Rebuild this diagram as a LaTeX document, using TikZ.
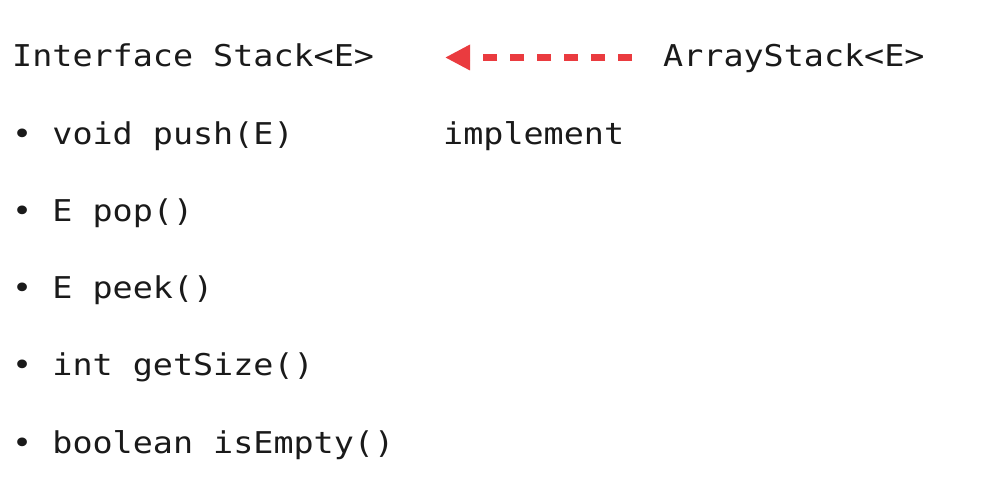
\documentclass[tikz,border=0pt]{standalone}
\usepackage{fontspec}
\newfontfamily\codefont[FakeStretch=1.113]{DejaVu Sans Mono}
\usetikzlibrary{arrows.meta,positioning}
\definecolor{implred}{HTML}{EA3B3F}
\definecolor{codeink}{HTML}{1A1A1A}

\begin{document}
\begin{tikzpicture}[x=1pt,y=-1pt,
  code/.style={anchor=base west,inner sep=0pt,text=codeink,font=\codefont\fontsize{30}{36}\selectfont}]
  \useasboundingbox[fill=white] (0,0) rectangle (996,497);
  \node[code] (iface) at (12,67) {Interface Stack<E>};
  \node[code] (arrstack) at (663,67) {ArrayStack<E>};
  \node[code] (impl) at (443,144.2) {implement};
  \foreach \m [count=\i] in {void push(E),E pop(),E peek(),int getSize(),boolean isEmpty()}
    \node[code] (m\i) at (12,67+77.2*\i) {• \m};
  \coordinate (tip) at (445,57.5);
  \draw[implred,line width=6.5pt,dash pattern=on 14pt off 13pt,shorten <=31pt,
        -{Triangle[length=25pt,width=24pt]}] (arrstack.west |- tip) -- (tip);
\end{tikzpicture}
\end{document}
